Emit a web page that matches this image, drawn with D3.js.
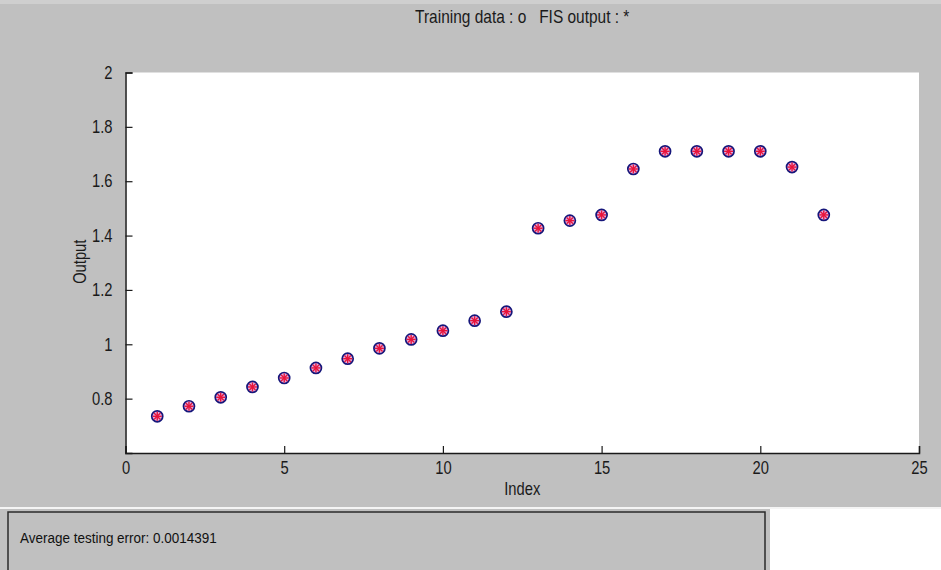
<!DOCTYPE html>
<html>
<head>
<meta charset="utf-8">
<script src="https://cdn.jsdelivr.net/npm/d3@7"></script>
<style>
  body { margin: 0; background: #ffffff; }
  svg { display: block; }
</style>
</head>
<body>
<div id="chart"></div>
<script>
// data
var indexValues = [1, 2, 3, 4, 5, 6, 7, 8, 9, 10, 11, 12, 13, 14, 15, 16, 17, 18, 19, 20, 21, 22];
var trainingData = [0.735, 0.772, 0.805, 0.843, 0.876, 0.913, 0.947, 0.985, 1.018, 1.05, 1.087, 1.12,
                    1.427, 1.455, 1.476, 1.645, 1.71, 1.71, 1.71, 1.71, 1.652, 1.476];
var fisOutput = [0.735, 0.772, 0.805, 0.843, 0.876, 0.913, 0.947, 0.985, 1.018, 1.05, 1.087, 1.12,
                 1.427, 1.455, 1.476, 1.645, 1.71, 1.71, 1.71, 1.71, 1.652, 1.476];
var xTicks = [0, 5, 10, 15, 20, 25];
var yTicks = [0.8, 1, 1.2, 1.4, 1.6, 1.8, 2];
var title = "Training data : o   FIS output : *";
var xlabel = "Index";
var ylabel = "Output";
var errorText = "Average testing error: 0.0014391";

var W = 941, H = 570;
var margin = { top: 72.5, right: 22, bottom: 117, left: 125.5 };
var width = W - margin.left - margin.right,
    height = H - margin.top - margin.bottom;

// matlab's axis font is narrow, so squeeze Liberation Sans horizontally
var font = "'Liberation Sans', Arial, sans-serif";
function squeeze(k) {
  return function(sel) {
    sel.each(function() {
      var t = d3.select(this);
      var tx = +t.attr("x") || 0;
      t.attr("x", tx / k).attr("transform", "scale(" + k + ",1)");
    });
  };
}

var svg = d3.select("#chart").append("svg")
  .attr("width", W)
  .attr("height", H);

// window background
svg.append("rect").attr("x", 0).attr("y", 0).attr("width", W).attr("height", 507)
  .attr("fill", "#c0c0c0");
svg.append("rect").attr("x", 0).attr("y", 0).attr("width", W).attr("height", 4)
  .attr("fill", "#cfcfcf");
svg.append("rect").attr("x", 0).attr("y", 507).attr("width", W).attr("height", 2)
  .attr("fill", "#f4f4f4");
svg.append("rect").attr("x", 0).attr("y", 509).attr("width", 770).attr("height", H - 509)
  .attr("fill", "#c0c0c0");

// bottom text box
svg.append("rect")
  .attr("x", 8).attr("y", 512).attr("width", 757).attr("height", 80)
  .attr("fill", "#c0c0c0")
  .attr("stroke", "#2a2a2a")
  .attr("stroke-width", 1.5);
svg.append("text")
  .attr("x", 20).attr("y", 543)
  .attr("font-family", font)
  .attr("font-size", 15.5)
  .attr("fill", "#111")
  .text(errorText)
  .call(squeeze(0.87));

var g = svg.append("g")
  .attr("transform", "translate(" + margin.left + "," + margin.top + ")");

var x = d3.scaleLinear().domain([0, 25]).range([0, width]);
var y = d3.scaleLinear().domain([0.6, 2]).range([height, 0]);

// plot area
g.append("rect")
  .attr("width", width)
  .attr("height", height)
  .attr("fill", "#ffffff");

// axes, ticks pointing inwards like matlab
var xAxis = g.append("g")
  .attr("transform", "translate(0," + height + ")")
  .call(d3.axisBottom(x).tickValues(xTicks).tickSize(-7).tickPadding(8).tickFormat(d3.format("d")));
var yAxis = g.append("g")
  .call(d3.axisLeft(y).tickValues(yTicks).tickSize(-7).tickPadding(13).tickFormat(function(d) { return d3.format("")(d); }));

[xAxis, yAxis].forEach(function(a) {
  a.select(".domain").attr("stroke", "#1a1a1a").attr("stroke-width", 1.5);
  a.selectAll(".tick line").attr("stroke", "#1a1a1a").attr("stroke-width", 1.2);
  a.selectAll(".tick text")
    .attr("font-family", font)
    .attr("font-size", 18)
    .attr("fill", "#1a1a1a")
    .call(squeeze(0.82));
});

// markers: blue circles for training data
g.selectAll("circle.train")
  .data(indexValues)
  .enter()
  .append("circle")
  .attr("class", "train")
  .attr("cx", function(d) { return x(d); })
  .attr("cy", function(d, i) { return y(trainingData[i]); })
  .attr("r", 5.5)
  .attr("fill", "#e0b0e0")
  .attr("stroke", "#16167a")
  .attr("stroke-width", 1.7);

// red asterisks for the FIS output
var stars = g.selectAll("g.star")
  .data(indexValues)
  .enter()
  .append("g")
  .attr("class", "star")
  .attr("transform", function(d, i) {
    return "translate(" + x(d) + "," + y(fisOutput[i]) + ")";
  });
var arms = [[-4.5, 0, 4.5, 0], [0, -4.5, 0, 4.5], [-3.2, -3.2, 3.2, 3.2], [-3.2, 3.2, 3.2, -3.2]];
arms.forEach(function(a) {
  stars.append("line")
    .attr("x1", a[0]).attr("y1", a[1]).attr("x2", a[2]).attr("y2", a[3])
    .attr("stroke", "#e8143c")
    .attr("stroke-width", 1.4);
});

// title
g.append("text")
  .attr("x", width / 2)
  .attr("y", -50)
  .attr("text-anchor", "middle")
  .attr("font-family", font)
  .attr("font-size", 18)
  .attr("fill", "#1a1a1a")
  .attr("xml:space", "preserve")
  .text(title)
  .call(squeeze(0.86));

// x label
g.append("text")
  .attr("x", width / 2)
  .attr("y", height + 42)
  .attr("text-anchor", "middle")
  .attr("font-family", font)
  .attr("font-size", 18)
  .attr("fill", "#1a1a1a")
  .text(xlabel)
  .call(squeeze(0.82));

// y label
g.append("text")
  .attr("transform", "translate(" + (-40) + "," + (height / 2 - 1) + ") rotate(-90) scale(0.82,1)")
  .attr("text-anchor", "middle")
  .attr("font-family", font)
  .attr("font-size", 18)
  .attr("fill", "#1a1a1a")
  .text(ylabel);
</script>
</body>
</html>
